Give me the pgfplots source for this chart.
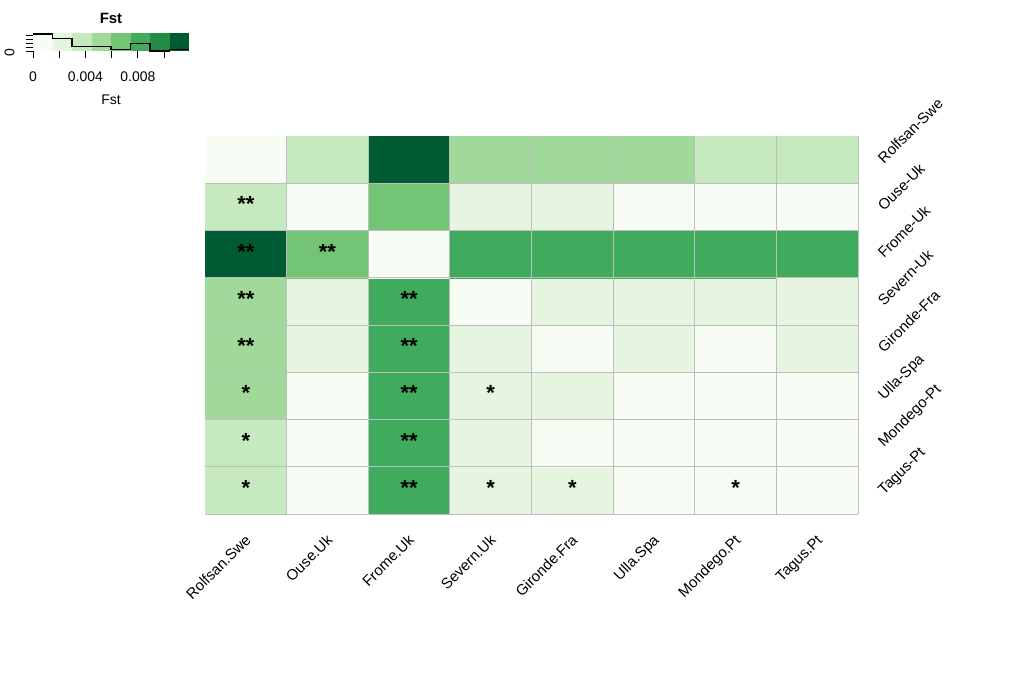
\documentclass[border=0pt]{standalone}
\usepackage{pgfplots}
\pgfplotsset{compat=1.18}
\usepackage{fontspec}
\setmainfont{Liberation Sans}

% Greens, 8 classes
\definecolor{g0}{HTML}{F7FCF5}
\definecolor{g1}{HTML}{E5F5E0}
\definecolor{g2}{HTML}{C7E9C0}
\definecolor{g3}{HTML}{A1D99B}
\definecolor{g4}{HTML}{74C476}
\definecolor{g5}{HTML}{41AB5D}
\definecolor{g6}{HTML}{238B45}
\definecolor{g7}{HTML}{005A32}
\definecolor{cellline}{HTML}{BEBEBE}

\pgfplotsset{
  colormap={fst}{rgb255=(247,252,245) rgb255=(229,245,224) rgb255=(199,233,192)
    rgb255=(161,217,155) rgb255=(116,196,118) rgb255=(65,171,93)
    rgb255=(35,139,69) rgb255=(0,90,50)},
}

\newcommand{\lab}{\fontsize{15}{18}\selectfont}
\newcommand{\keyfont}{\fontsize{14}{16}\selectfont}

\begin{document}
\begin{tikzpicture}
\useasboundingbox (0,0) rectangle (1029bp,-685bp);

% colour key with histogram
\begin{axis}[
    at={(33bp,-51bp)}, anchor=south west,
    scale only axis, width=156bp, height=18bp,
    xmin=0, xmax=0.0119, ymin=0, ymax=23.16,
    scaled x ticks=false,
    axis x line*=bottom, axis y line*=left,
    axis line style={draw=none},
    tick align=outside, major tick length=7bp,
    tick style={black, line width=0.8bp},
    xtick={0,0.002,0.004,0.006,0.008,0.010},
    xticklabels={0,,0.004,,0.008,},
    ytick={0,5,10,15,20},
    yticklabels={0,,,,},
    xticklabel style={yshift=-10bp},
    yticklabel style={xshift=-8bp, yshift=-2bp, rotate=90},
    ticklabel style={font=\keyfont},
    xlabel={Fst}, xlabel style={font=\keyfont, yshift=-7bp},
    title={\bfseries Fst}, title style={font=\fontsize{15}{18}\selectfont, yshift=0bp},
]
    \addplot[ybar interval, draw=none, fill=g0] coordinates {(0,23.16) (0.0014875,23.16)};
    \addplot[ybar interval, draw=none, fill=g1] coordinates {(0.0014875,23.16) (0.002975,23.16)};
    \addplot[ybar interval, draw=none, fill=g2] coordinates {(0.002975,23.16) (0.0044625,23.16)};
    \addplot[ybar interval, draw=none, fill=g3] coordinates {(0.0044625,23.16) (0.00595,23.16)};
    \addplot[ybar interval, draw=none, fill=g4] coordinates {(0.00595,23.16) (0.0074375,23.16)};
    \addplot[ybar interval, draw=none, fill=g5] coordinates {(0.0074375,23.16) (0.008925,23.16)};
    \addplot[ybar interval, draw=none, fill=g6] coordinates {(0.008925,23.16) (0.0104125,23.16)};
    \addplot[ybar interval, draw=none, fill=g7] coordinates {(0.0104125,23.16) (0.0119,23.16)};
    % histogram of the matrix values
    \addplot[const plot, black, line width=1.2bp] coordinates {
        (0,22) (0.0014875,16) (0.002975,6) (0.0044625,6) (0.00595,2)
        (0.0074375,10) (0.008925,0) (0.0104125,2) (0.0119,2)
    };
\end{axis}

% heatmap
\begin{axis}[
    at={(205bp,-514bp)}, anchor=south west,
    scale only axis, width=653bp, height=378bp,
    xmin=0.5, xmax=8.5, ymin=0.5, ymax=8.5,
    enlargelimits=false,
    axis x line*=bottom, axis y line*=right,
    axis line style={draw=cellline, line width=1bp, -},
    axis on top,
    major tick length=0pt, minor tick length=0pt,
    xtick={1,...,8}, ytick={1,...,8},
    minor xtick={1.5,2.5,...,7.5}, minor ytick={1.5,2.5,...,7.5},
    xminorgrids, yminorgrids,
    minor grid style={draw=cellline, line width=1bp},
    xticklabels={Rolfsan.Swe,Ouse.Uk,Frome.Uk,Severn.Uk,Gironde.Fra,Ulla.Spa,Mondego.Pt,Tagus.Pt},
    yticklabels={Tagus-Pt,Mondego-Pt,Ulla-Spa,Gironde-Fra,Severn-Uk,Frome-Uk,Ouse-Uk,Rolfsan-Swe},
    xticklabel style={font=\lab, inner sep=0pt, xshift=6bp, yshift=-27bp, rotate=45, anchor=base east},
    yticklabel style={font=\lab, inner sep=0pt, xshift=26bp, yshift=-5bp, rotate=45, anchor=base west},
    colormap name=fst, colormap access=piecewise constant,
    point meta min=0, point meta max=0.0119,
]
    \addplot[matrix plot*, mesh/cols=8, point meta=explicit]
        table[row sep=\\, meta=c] {
        x y c \\
        1 1 0.0037 \\ 2 1 0.0006 \\ 3 1 0.0082 \\ 4 1 0.0022 \\ 5 1 0.0022 \\ 6 1 0.0006 \\ 7 1 0.0006 \\ 8 1 0 \\
        1 2 0.0037 \\ 2 2 0.0006 \\ 3 2 0.0082 \\ 4 2 0.0022 \\ 5 2 0.0006 \\ 6 2 0.0006 \\ 7 2 0 \\ 8 2 0.0006 \\
        1 3 0.0052 \\ 2 3 0.0006 \\ 3 3 0.0082 \\ 4 3 0.0022 \\ 5 3 0.0022 \\ 6 3 0 \\ 7 3 0.0006 \\ 8 3 0.0006 \\
        1 4 0.0052 \\ 2 4 0.0022 \\ 3 4 0.0082 \\ 4 4 0.0022 \\ 5 4 0 \\ 6 4 0.0022 \\ 7 4 0.0006 \\ 8 4 0.0022 \\
        1 5 0.0052 \\ 2 5 0.0022 \\ 3 5 0.0082 \\ 4 5 0 \\ 5 5 0.0022 \\ 6 5 0.0022 \\ 7 5 0.0022 \\ 8 5 0.0022 \\
        1 6 0.0112 \\ 2 6 0.0067 \\ 3 6 0 \\ 4 6 0.0082 \\ 5 6 0.0082 \\ 6 6 0.0082 \\ 7 6 0.0082 \\ 8 6 0.0082 \\
        1 7 0.0037 \\ 2 7 0 \\ 3 7 0.0067 \\ 4 7 0.0022 \\ 5 7 0.0022 \\ 6 7 0.0006 \\ 7 7 0.0006 \\ 8 7 0.0006 \\
        1 8 0 \\ 2 8 0.0037 \\ 3 8 0.0112 \\ 4 8 0.0052 \\ 5 8 0.0052 \\ 6 8 0.0052 \\ 7 8 0.0037 \\ 8 8 0.0037 \\
    };
    % significance stars
    \addplot[only marks, mark=*, mark size=0pt, mark options={draw=none, fill=none},
        point meta=explicit symbolic, nodes near coords,
        nodes near coords style={anchor=base, inner sep=0pt, yshift=-5bp,
            font=\fontsize{22}{22}\selectfont\bfseries, text=black}]
        table[meta=s] {
        x y s
        1 7 **
        1 6 **
        2 6 **
        1 5 **
        3 5 **
        1 4 **
        3 4 **
        1 3 *
        3 3 **
        4 3 *
        1 2 *
        3 2 **
        1 1 *
        3 1 **
        4 1 *
        5 1 *
        7 1 *
    };
\end{axis}
\end{tikzpicture}
\end{document}
